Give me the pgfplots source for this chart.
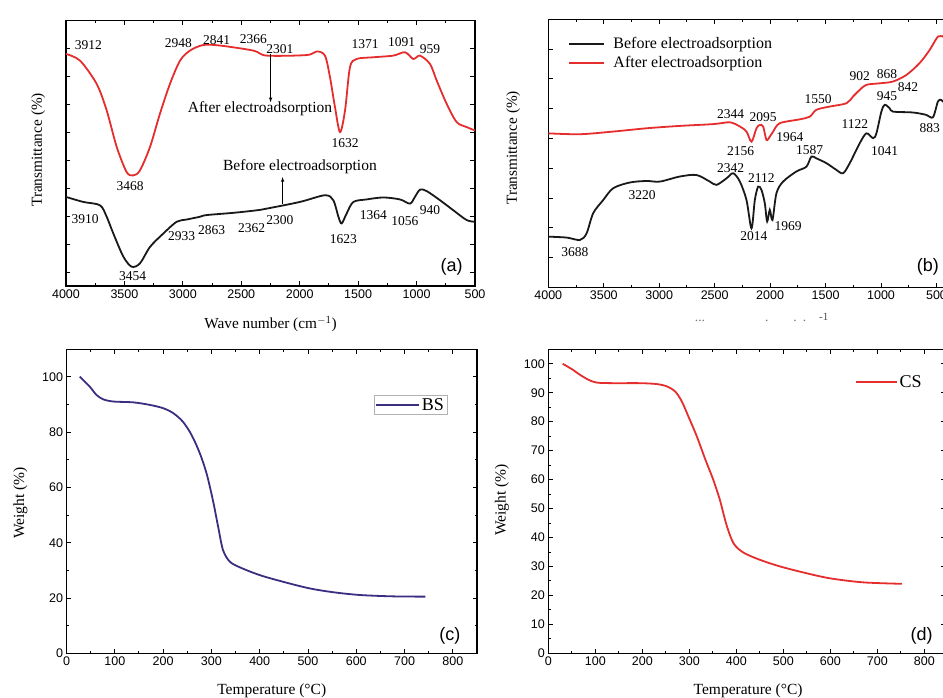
\documentclass[border=0pt]{standalone}
\usepackage{fontspec}
\setmainfont{Liberation Serif}
\newfontfamily\ticksf{Liberation Sans}
\usepackage{pgfplots}
\pgfplotsset{compat=1.18}
\definecolor{ftred}{RGB}{229,45,45}
\definecolor{tgblue}{RGB}{58,46,128}
\pgfplotsset{
  panel/.style={scale only axis, anchor=south west,
    axis line style={line width=1.1pt},
    tick align=inside, major tick length=4.5pt, minor tick length=2.5pt,
    every tick/.style={line width=0.9pt, black},
    tick label style={font=\fontsize{12.5}{12.5}\selectfont\ticksf},
    /pgf/number format/assume math mode=true,
    /pgf/number format/1000 sep={},
    label style={font=\fontsize{15.3}{15.3}\selectfont},
  },
  curve/.style={line width=1.8pt, smooth},
}
\tikzset{
  ann/.style={font=\fontsize{13.5}{13.5}\selectfont, inner sep=0pt},
  wrd/.style={font=\fontsize{15.5}{15.5}\selectfont, inner sep=0pt},
  tag/.style={font=\fontsize{18}{18}\selectfont\ticksf, inner sep=0pt},
}
\begin{document}
\begin{tikzpicture}[x=1pt,y=1pt]
\useasboundingbox (0,0) rectangle (943,698);

% (a) FTIR
\begin{axis}[panel, at={(66pt,412pt)}, width=409pt, height=265.3pt,
    x dir=reverse, xmin=500, xmax=4000, ymin=0, ymax=9.5,
    xtick={500,1000,...,4000}, minor x tick num=1,
    ytick={0.5,1.5,...,8.5}, yticklabels={},
    xlabel={Wave number (cm$^{-1}$)}, ylabel={Transmittance (\%)},
    xlabel style={at={(axis description cs:0.5,-0.143)}, anchor=center},
    ylabel style={at={(axis description cs:-0.068,0.513)}, anchor=center},
  ]
\addplot[ftred, curve] coordinates {
 (4000,8.31)(3880,8.07)(3738,7.24)(3652,6.29)(3566,4.98)(3481,4.08)(3424,3.96)
 (3367,4.14)(3281,4.98)(3196,6.17)(3110,7.24)(3024,8.07)(2939,8.43)(2825,8.63)
 (2682,8.61)(2397,8.43)(2283,8.25)(1940,8.27)(1855,8.40)(1784,8.25)(1741,7.48)
 (1698,6.40)(1655,5.51)(1612,6.29)(1570,7.83)(1513,8.13)(1370,8.19)(1199,8.25)
 (1099,8.37)(1028,8.13)(971,8.25)(885,7.95)(828,7.36)(742,6.52)(657,5.87)
 (571,5.69)(500,5.57)};
\addplot[black!90, curve] coordinates {
 (4000,3.19)(3852,3.01)(3709,2.89)(3652,2.48)(3595,1.88)(3509,1.05)(3438,0.69)
 (3367,0.81)(3281,1.40)(3167,1.88)(3053,2.30)(2967,2.38)(2853,2.48)(2796,2.54)
 (2568,2.62)(2368,2.71)(2283,2.77)(1998,3.01)(1784,3.25)(1712,3.07)(1669,2.48)
 (1641,2.24)(1598,2.60)(1541,3.01)(1427,3.10)(1285,3.17)(1142,3.10)(1056,2.95)
 (1014,3.19)(971,3.45)(914,3.40)(799,3.07)(685,2.71)(571,2.36)(500,2.30)};
\node[ann] at (axis cs:3809,8.63) {3912};
\node[ann] at (axis cs:3039,8.69) {2948};
\node[ann] at (axis cs:2711,8.79) {2841};
\node[ann] at (axis cs:2397,8.85) {2366};
\node[ann] at (axis cs:2169,8.49) {2301};
\node[ann] at (axis cs:1441,8.67) {1371};
\node[ann] at (axis cs:1128,8.73) {1091};
\node[ann] at (axis cs:885,8.49) {959};
\node[wrd] at (axis cs:2340,6.35) {After electroadsorption};
\draw[-latex, line width=0.6pt] (axis cs:2249,8.31) -- (axis cs:2249,6.58);
\node[ann] at (axis cs:1612,5.12) {1632};
\node[ann] at (axis cs:3452,3.57) {3468};
\node[wrd] at (axis cs:1998,4.26) {Before electroadsorption};
\draw[-latex, line width=0.6pt] (axis cs:2146,2.95) -- (axis cs:2146,3.90);
\node[ann] at (axis cs:3837,2.38) {3910};
\node[ann] at (axis cs:3010,1.79) {2933};
\node[ann] at (axis cs:2753,2.00) {2863};
\node[ann] at (axis cs:2411,2.06) {2362};
\node[ann] at (axis cs:2169,2.36) {2300};
\node[ann] at (axis cs:1627,1.67) {1623};
\node[ann] at (axis cs:1370,2.54) {1364};
\node[ann] at (axis cs:1099,2.33) {1056};
\node[ann] at (axis cs:885,2.71) {940};
\node[ann] at (axis cs:3429,0.36) {3454};
\node[tag] at (axis cs:700,0.69) {(a)};
\end{axis}

% (b) FTIR
\begin{axis}[panel, at={(548.3pt,410.7pt)}, width=399.3pt, height=268pt,
    x dir=reverse, xmin=400, xmax=4000, ymin=0, ymax=9, clip=false,
    xtick={500,1000,...,4000}, minor x tick num=1,
    ytick={1,2,...,8}, yticklabels={},
    ylabel={Transmittance (\%)},
    ylabel style={at={(axis description cs:-0.088,0.52)}, anchor=center},
    legend style={draw=none, fill=none, at={(axis description cs:0.05,0.94)},
      anchor=north west, font=\fontsize{16}{16}\selectfont, row sep=2pt,
      inner sep=0pt, /tikz/every odd column/.style={column sep=6pt}},
    legend cell align=left,
    legend image code/.code={\draw[#1, line width=2pt] (0pt,0pt) -- (35pt,0pt);},
  ]
\addplot[black!90, curve] coordinates {
 (4000,1.70)(3835,1.67)(3715,1.59)(3655,1.81)(3595,2.49)(3505,2.93)(3414,3.33)
 (3264,3.52)(3114,3.57)(2994,3.55)(2814,3.72)(2664,3.77)(2544,3.55)(2483,3.44)
 (2393,3.66)(2333,3.83)(2273,3.55)(2213,2.93)(2168,1.98)(2138,2.93)(2108,3.38)
 (2078,3.27)(2048,2.82)(2027,2.21)(2003,2.60)(1979,2.26)(1943,3.16)(1883,3.55)
 (1763,3.89)(1673,4.05)(1628,4.39)(1583,4.33)(1493,4.17)(1402,3.94)(1342,3.83)
 (1282,4.17)(1192,4.84)(1132,5.17)(1072,5.01)(1042,5.17)(997,5.90)(967,6.13)
 (922,6.01)(892,5.90)(712,5.87)(592,5.79)(532,5.71)(487,6.24)(457,6.29)(427,6.18)};
\addlegendentry{Before electroadsorption}
\addplot[ftred, curve] coordinates {
 (4000,5.17)(3715,5.14)(3414,5.23)(3114,5.34)(2814,5.42)(2513,5.48)(2363,5.54)
 (2273,5.40)(2213,5.23)(2168,4.89)(2123,5.34)(2093,5.45)(2063,5.40)(2033,4.95)
 (2003,5.06)(1973,5.23)(1913,5.51)(1733,5.64)(1643,5.73)(1583,5.96)(1462,6.07)
 (1312,6.18)(1252,6.41)(1192,6.63)(1132,6.80)(1012,6.85)(892,6.91)(772,7.13)
 (652,7.53)(562,7.97)(487,8.42)(442,8.42)(427,8.53)};
\addlegendentry{After electroadsorption}
\node[ann] at (axis cs:2357,5.81) {2344};
\node[ann] at (axis cs:2063,5.70) {2095};
\node[ann] at (axis cs:2267,4.56) {2156};
\node[ann] at (axis cs:1823,5.06) {1964};
\node[ann] at (axis cs:1568,6.32) {1550};
\node[ann] at (axis cs:1192,7.08) {902};
\node[ann] at (axis cs:946,7.17) {868};
\node[ann] at (axis cs:757,6.74) {842};
\node[ann] at (axis cs:946,6.41) {945};
\node[ann] at (axis cs:1237,5.49) {1122};
\node[ann] at (axis cs:967,4.59) {1041};
\node[ann] at (axis cs:562,5.34) {883};
\node[ann] at (axis cs:1643,4.61) {1587};
\node[ann] at (axis cs:2357,4.00) {2342};
\node[ann] at (axis cs:2078,3.66) {2112};
\node[ann] at (axis cs:3153,3.10) {3220};
\node[ann] at (axis cs:2147,1.72) {2014};
\node[ann] at (axis cs:1838,2.06) {1969};
\node[ann] at (axis cs:3760,1.18) {3688};
\node[tag] at (axis cs:577,0.69) {(b)};
\node[ann, black!55] at (axis description cs:0.38,-0.125) {...};
\node[ann, black!55] at (axis description cs:0.547,-0.125) {.};
\node[ann, black!55] at (axis description cs:0.63,-0.125) {.\hspace{6pt}.};
\node[ann, black!70, font=\fontsize{11}{11}\selectfont] at (axis description cs:0.69,-0.112) {-1};
\end{axis}

% (c) TGA BS
\begin{axis}[panel, at={(66.5pt,44.7pt)}, width=410.5pt, height=304pt,
    xmin=0, xmax=850, ymin=0, ymax=110,
    xtick={0,100,...,800}, minor x tick num=1,
    ytick={0,20,...,100}, minor y tick num=1,
    xlabel={Temperature (°C)}, ylabel={Weight (\%)},
    label style={font=\fontsize{15.5}{15.5}\selectfont},
    xlabel style={at={(axis description cs:0.5,-0.124)}, anchor=center},
    ylabel style={at={(axis description cs:-0.112,0.494)}, anchor=center},
    legend style={draw=black!30, fill=white, at={(axis description cs:0.927,0.85)},
      anchor=north east, font=\fontsize{18}{18}\selectfont, inner sep=1pt},
    legend image code/.code={\draw[#1, line width=2pt] (0pt,0pt) -- (43pt,0pt);},
  ]
\addplot[tgblue, curve] coordinates {
 (27.6,100.1)(48,96.5)(62,93.5)(76,91.9)(97,91.1)(138,90.8)(172,89.9)(200,88.7)
 (221,86.9)(241,83.8)(259,79.0)(276,72.4)(290,65.1)(303,55.5)(314,45.8)
 (324,37.4)(338,33.2)(359,31.1)(400,28.3)(448,25.9)(503,23.5)(552,22.1)
 (607,21.1)(676,20.6)(743,20.5)};
\addlegendentry{BS}
\node[tag] at (axis cs:794,6.3) {(c)};
\end{axis}

% (d) TGA CS
\begin{axis}[panel, at={(548.3pt,44.7pt)}, width=397.2pt, height=304pt,
    xmin=0, xmax=845, ymin=0, ymax=105,
    xtick={0,100,...,800}, minor x tick num=1,
    ytick={0,10,...,100}, minor y tick num=1,
    xlabel={Temperature (°C)}, ylabel={Weight (\%)},
    label style={font=\fontsize{15.5}{15.5}\selectfont},
    xlabel style={at={(axis description cs:0.503,-0.124)}, anchor=center},
    ylabel style={at={(axis description cs:-0.117,0.504)}, anchor=center},
    legend style={draw=none, fill=none, at={(axis description cs:0.948,0.925)},
      anchor=north east, font=\fontsize{18}{18}\selectfont, inner sep=1pt},
    legend image code/.code={\draw[#1, line width=2pt] (0pt,0pt) -- (41pt,0pt);},
  ]
\addplot[ftred, curve] coordinates {
 (30.5,100)(49.6,98.2)(67.4,96.2)(85.1,94.5)(103,93.5)(138,93.3)(195,93.3)
 (230,93.0)(252,92.2)(270,90.4)(284,87.0)(298,81.8)(316,74.9)(333,67.4)
 (351,59.9)(365,53.0)(379,44.4)(394,38.0)(415,34.8)(450,32.3)(493,30.0)
 (543,27.9)(599,25.9)(670,24.5)(752,24.0)};
\addlegendentry{CS}
\node[tag] at (axis cs:794,5.97) {(d)};
\end{axis}
\end{tikzpicture}
\end{document}
